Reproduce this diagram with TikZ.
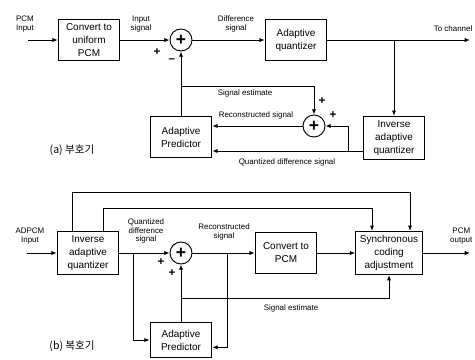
\documentclass[tikz,border=0pt]{standalone}
\usepackage{fontspec}
\setmainfont{Liberation Sans}
\newfontfamily\kofont{Noto Sans CJK KR}
\usetikzlibrary{arrows.meta}

\begin{document}
\begin{tikzpicture}[x=0.03cm, y=-0.03cm, line width=0.8pt, >={Latex[length=4.5pt,width=3.6pt]},
	every node/.style={font=\fontsize{6.8}{7.6}\selectfont, inner sep=1pt},
	blk/.style={draw, align=center, minimum width=1.85cm, minimum height=1.22cm, font=\fontsize{8.5}{11}\selectfont},
	adder/.style={draw, circle, minimum size=0.66cm, inner sep=0pt, font=\fontsize{15}{15}\selectfont\bfseries},
	sgn/.style={font=\fontsize{10}{10}\selectfont\bfseries},
	part/.style={font=\kofont\fontsize{9}{10}\selectfont}]
	\useasboundingbox (0,0) rectangle (475,359);
	\node[blk] (conv) at (89,40) {Convert to\\uniform\\PCM};
	\node[adder] (s1) at (181,40) {+};
	\node[blk] (aq) at (296,40) {Adaptive\\quantizer};
	\node[blk, minimum height=1.3cm] (iq) at (394,138) {Inverse\\adaptive\\quantizer};
	\node[adder] (s2) at (314,126) {+};
	\node[blk] (pr) at (181,137) {Adaptive\\Predictor};
	\coordinate (in) at (28,40);
	\coordinate (ch) at (470,40);
	\coordinate (br) at (394,40);
	\coordinate (qd) at (348,151);
	\coordinate (se) at (181,86);
	\draw[->] (in) -- (conv);
	\draw[->] (conv) -- (s1);
	\draw[->] (s1) -- (aq);
	\draw[->] (aq) -- (ch);
	\draw[->] (br) -- (iq);
	\draw[->] (iq.west |- qd) -- (pr.east |- qd);
	\draw[->] (qd) |- (s2);
	\draw[->] (s2) -- (pr.east |- s2);
	\draw[->] (pr) -- (s1);
	\draw[->] (se) -| (s2);
	\node[align=left] (lin) at (25,24) {PCM\\Input};
	\node[align=center] (lis) at (141,24) {Input\\signal};
	\node[align=center] (lds) at (236,24) {Difference\\signal};
	\node[anchor=south east] (lch) at (474,33) {To channel};
	\node[sgn] (p1) at (157,52) {+};
	\node[sgn] (m1) at (172,61) {--};
	\node (lse) at (245,93) {Signal estimate};
	\node (lrs) at (256,115) {Reconstructed signal};
	\node[sgn] (p2) at (322,101) {+};
	\node[sgn] (p3) at (333,115) {+};
	\node (lqd) at (287,162) {Quantized difference signal};
	\node[part] (ta) at (72,150) {(a) 부호기};
	\node[blk, minimum height=1.3cm] (iqb) at (88,253) {Inverse\\adaptive\\quantizer};
	\node[adder] (s3) at (181,253) {+};
	\node[blk] (cv) at (286,253) {Convert to\\PCM};
	\node[blk, minimum width=2cm, minimum height=1.3cm] (sy) at (389,253) {Synchronous\\coding\\adjustment};
	\node[blk, minimum height=1.05cm] (prb) at (181,340) {Adaptive\\Predictor};
	\coordinate (inb) at (27,253);
	\coordinate (out) at (470,253);
	\coordinate (ba) at (133,253);
	\coordinate (bb) at (227,253);
	\coordinate (bc) at (181,298);
	\coordinate (fa) at (72,192);
	\coordinate (fb) at (103,208);
	\draw[->] (inb) -- (iqb);
	\draw[->] (iqb) -- (s3);
	\draw[->] (s3) -- (cv);
	\draw[->] (cv) -- (sy);
	\draw[->] (sy) -- (out);
	\draw[->] (iqb.north -| fa) -- (fa) -| ([xshift=0.63cm]sy.north);
	\draw[->] (iqb.north -| fb) -- (fb) -| ([xshift=-0.51cm]sy.north);
	\draw[->] (ba) |- (prb);
	\draw[->] (bb) |- ([yshift=-0.22cm]prb.east);
	\draw[->] (prb) -- (s3);
	\draw[->] (bc) -| (sy);
	\node[align=center] (lad) at (30,236) {ADPCM\\Input};
	\node[align=center] (lqb) at (146,231) {Quantized\\difference\\signal};
	\node[align=center] (lrb) at (224,232) {Reconstructed\\signal};
	\node[align=center, anchor=east] (lpo) at (474,236) {PCM\\output};
	\node (lsb) at (291,308) {Signal estimate};
	\node[sgn] (p4) at (161,262) {+};
	\node[sgn] (p5) at (172,273) {+};
	\node[part] (tb) at (72,346) {(b) 복호기};
\end{tikzpicture}
\end{document}
